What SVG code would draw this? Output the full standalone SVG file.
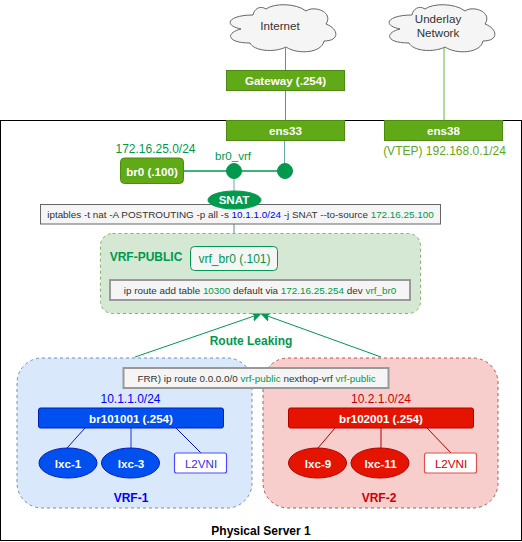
<svg xmlns="http://www.w3.org/2000/svg" width="522" height="542" viewBox="0 0 522 542">
<style>
text{font-family:"Liberation Sans",Arial,sans-serif;font-size:12px;text-anchor:middle}
.w{fill:#fff}.g{fill:#00994d}.k{fill:#333}.b{fill:#0000ff}.r{fill:#c00}
.bold{font-weight:bold}
.s{font-size:11.600px}
.n{font-size:9.900px}
.tg{fill:#60a917;stroke:#4c8a12}
.cloud{fill:#f5f5f5;stroke:#666}
.gl{fill:#d5e8d4;stroke:#82b366;stroke-dasharray:3 3}
.bl{fill:#dae8fc;stroke:#6c8ebf;stroke-dasharray:3 3}
.rl{fill:#f8cecc;stroke:#b85450;stroke-dasharray:3 3}
.note{fill:#f5f5f5;stroke:#666}
.dot{fill:#00994d;stroke:#00994d}
.bb{fill:#0050ef;stroke:#001dbc}
.rb{fill:#e51400;stroke:#b20000}
</style>
<defs>
<marker id="a" viewBox="0 0 10 10" refX="9" refY="5" markerWidth="9" markerHeight="9" markerUnits="userSpaceOnUse" orient="auto"><path d="M0 0L10 5L0 10L3 5Z" fill="#00994d" stroke="#00994d"/></marker>
<path id="c" d="M27 10C3 10 -4 20 15 24C-1 28 1 38 24 38C28 46 48 48 60 42C72 50 96 48 98 36C114 36 113 24 100 19C108 7 88 0 80 6C70 -2 48 -2 40 4C34 0 28 4 27 10Z"/>
</defs>
<g id="server"><rect x="0.500" y="120.500" width="521" height="420" fill="#fff" stroke="#000"/><text class="bold" x="261" y="535" fill="#000">Physical Server 1</text></g>
<g id="connectors" fill="none">
<path d="M285.500 48V70M285.500 90V120" stroke="#60a917"/>
<path d="M444 48V120" stroke="#97d077" stroke-width="1.500"/>
<path d="M284.500 140V171" stroke="#67ab9f"/>
<path d="M184 171H285" stroke="#00994d" stroke-width="1.500"/>
<path d="M234 171V192" stroke="#67ab9f"/>
<path d="M234 224V247" stroke="#67ab9f" stroke-width="1.200"/>
<path d="M135 357L260 314" stroke="#00994d" marker-end="url(#a)"/>
<path d="M381 357L262 314" stroke="#00994d" marker-end="url(#a)"/>
</g>
<g id="cloud-internet"><use href="#c" x="226" y="5" class="cloud"/><text class="k s" x="280" y="30">Internet</text></g>
<g id="cloud-underlay"><use href="#c" x="385" y="5" class="cloud"/><text class="k s" x="438" y="23">Underlay</text><text class="k s" x="438" y="37">Network</text></g>
<g id="gateway"><rect x="226.500" y="70.500" width="118" height="20" class="tg"/><text class="w bold s" x="285.500" y="85">Gateway (.254)</text></g>
<g id="ens33"><rect x="226.500" y="120.500" width="118" height="20" class="tg"/><text class="w bold s" x="285.500" y="135">ens33</text></g>
<g id="ens38"><rect x="384.500" y="120.500" width="118" height="20" class="tg"/><text class="w bold s" x="443.500" y="135">ens38</text><text x="444.500" y="155" fill="#60a917">(VTEP) 192.168.0.1/24</text></g>
<g id="br0"><text class="g" x="155.500" y="153">172.16.25.0/24</text><rect x="120.500" y="158" width="63" height="25.500" rx="4" class="tg"/><text class="w bold s" x="152" y="176">br0 (.100)</text></g>
<g id="br0_vrf"><text class="g s" x="233" y="160">br0_vrf</text><circle cx="234" cy="171" r="7.500" class="dot"/><circle cx="285" cy="171" r="7.500" class="dot"/></g>
<g id="iptables"><rect x="40.500" y="204.500" width="400" height="19.500" class="note"/><text class="k n" x="240.500" y="218">iptables -t nat -A POSTROUTING -p all -s <tspan class="b">10.1.1.0/24</tspan> -j SNAT --to-source <tspan class="g">172.16.25.100</tspan></text></g>
<g id="snat"><ellipse cx="234.500" cy="200" rx="26.500" ry="9" fill="#00994d" stroke="#00994d"/><text class="w bold s" x="234" y="204">SNAT</text></g>
<g id="vrf-public"><rect x="100.500" y="233.500" width="320" height="80" rx="12" class="gl"/><text class="g bold" x="146" y="261">VRF-PUBLIC</text></g>
<g id="vrf_br0"><rect x="190.500" y="246.500" width="87" height="24" rx="4" fill="#f5f5f5" stroke="#00994d"/><text class="g" x="234.500" y="263">vrf_br0 (.101)</text></g>
<g id="iproute"><rect x="110" y="280" width="300" height="20" stroke-width="2" stroke="#999" fill="#f5f5f5"/><text class="k n" x="260" y="294">ip route add table <tspan class="g">10300</tspan> default via <tspan class="g">172.16.25.254</tspan> dev <tspan class="g">vrf_br0</tspan></text></g>
<g id="route-leaking"><text class="g bold" x="251" y="345">Route Leaking</text></g>
<g id="vrf-1">
<rect x="17" y="358" width="235" height="150" rx="25" class="bl"/>
<text class="b" x="130.500" y="403">10.1.1.0/24</text>
<text class="b bold" x="131" y="502">VRF-1</text>
</g>
<g id="vrf-2">
<rect x="263" y="358" width="235" height="150" rx="25" class="rl"/>
<text class="r" x="381" y="403">10.2.1.0/24</text>
<text class="r bold" x="379" y="502">VRF-2</text>
</g>
<g id="connectors-vrf" fill="none">
<path d="M85 428L67 448M176 428L201 453" stroke="#001dbc"/><path d="M131 428V448" stroke="#5a75d8" stroke-width="1.500"/>
<path d="M335 428L318 448M381 428V448M427 428L451 453" stroke="#b20000"/>
</g>
<g id="br101001"><rect x="38.500" y="408" width="185" height="20" rx="2" class="bb"/><text class="w bold s" x="131" y="423">br101001 (.254)</text></g>
<g id="lxc-1"><ellipse cx="68" cy="463" rx="29" ry="15" class="bb"/><text class="w bold s" x="68" y="468">lxc-1</text></g>
<g id="lxc-3"><ellipse cx="130.500" cy="463" rx="29" ry="15" class="bb"/><text class="w bold s" x="131" y="468">lxc-3</text></g>
<g id="l2vni-1"><rect x="174.500" y="453" width="52" height="20" rx="2" fill="#fff" stroke="#4d4dff" stroke-width="1.200"/><text class="s" x="201" y="468" fill="#3333e6">L2VNI</text></g>
<g id="br102001"><rect x="288.500" y="408" width="185" height="20" rx="2" class="rb"/><text class="w bold s" x="381" y="423">br102001 (.254)</text></g>
<g id="lxc-9"><ellipse cx="317.500" cy="463" rx="29" ry="15" class="rb"/><text class="w bold s" x="318" y="468">lxc-9</text></g>
<g id="lxc-11"><ellipse cx="380" cy="463" rx="29" ry="15" class="rb"/><text class="w bold s" x="380.500" y="468">lxc-11</text></g>
<g id="l2vni-2"><rect x="424.500" y="453" width="52" height="20" rx="2" fill="#fff" stroke="#d9534f" stroke-width="1.200"/><text class="r s" x="451" y="468">L2VNI</text></g>
<g id="frr"><rect x="123.500" y="368" width="265" height="20" stroke-width="2" stroke="#999" fill="#f5f5f5"/><text class="k n" x="256.500" y="382">FRR) ip route 0.0.0.0/0 <tspan class="g">vrf-public</tspan> nexthop-vrf <tspan class="g">vrf-public</tspan></text></g>
</svg>
